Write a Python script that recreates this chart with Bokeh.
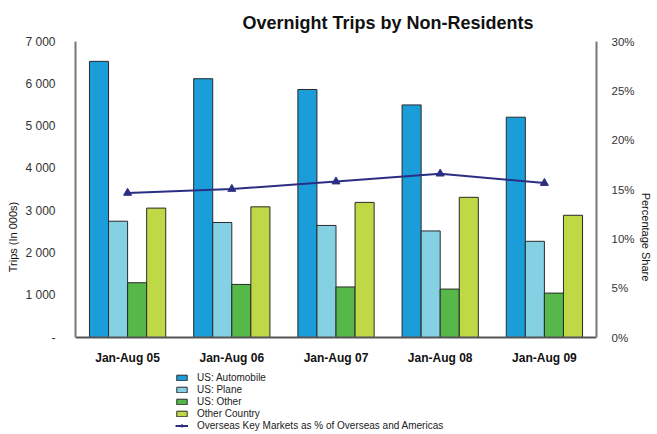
from bokeh.plotting import figure
from bokeh.models import (FactorRange, Range1d, LinearAxis, FixedTicker, NumeralTickFormatter,
                          ColumnDataSource, Legend, LegendItem)
from bokeh.transform import dodge
from bokeh.embed import file_html
from bokeh.resources import INLINE

periods = ["Jan-Aug 05", "Jan-Aug 06", "Jan-Aug 07", "Jan-Aug 08", "Jan-Aug 09"]
us_auto = [6530, 6120, 5865, 5500, 5210]
us_plane = [2750, 2720, 2650, 2520, 2275]
us_other = [1295, 1255, 1195, 1145, 1050]
other_country = [3060, 3090, 3195, 3315, 2890]
overseas_share = [0.1465, 0.1505, 0.158, 0.166, 0.1565]

left_ticks = [0, 1000, 2000, 3000, 4000, 5000, 6000, 7000]
left_tick_labels = ["-", "1 000", "2 000", "3 000", "4 000", "5 000", "6 000", "7 000"]
right_ticks = [0, 0.05, 0.10, 0.15, 0.20, 0.25, 0.30]

src = ColumnDataSource(dict(period=periods, auto=us_auto, plane=us_plane, other=us_other,
                            country=other_country, share=overseas_share))

FONT = "Liberation Sans"

W, H = 655, 432
TOP, LEFT, RIGHT = 41, 75, 59
PLOT_H = 296                      # pixel height of the 0..7000 band
FRAME_H = H - TOP                 # frame reaches the bottom so the legend can sit below the bars
below = FRAME_H - PLOT_H
y_max, pct_max = 7000, 0.30
y_min = -y_max * below / PLOT_H
pct_min = -pct_max * below / PLOT_H

p = figure(x_range=FactorRange(factors=periods), y_range=Range1d(y_min, y_max),
           width=W, height=H, output_backend="svg", toolbar_location=None,
           min_border_left=LEFT, min_border_right=RIGHT, min_border_top=TOP, min_border_bottom=0)
p.extra_y_ranges = {"pct": Range1d(pct_min, pct_max)}

p.title.text = "Overnight Trips by Non-Residents"
p.title.align = "left"
p.title.offset = 167
p.title.standoff = 18
p.title.text_font = FONT
p.title.text_font_size = "18px"
p.title.text_font_style = "bold"
p.title.text_color = "#111111"

p.grid.visible = False
p.outline_line_color = None
p.background_fill_color = "white"

w = 0.183
cols = [("auto", "#1A9DD9", -0.2745), ("plane", "#84D1E4", -0.0915),
        ("other", "#55B848", 0.0915), ("country", "#BFD846", 0.2745)]
renderers = []
for key, color, off in cols:
    r = p.vbar(x=dodge("period", off, range=p.x_range), top=key, width=w, source=src,
               fill_color=color, line_color="#2a2a2a", line_width=1)
    renderers.append(r)

ln = p.line(x="period", y="share", source=src, y_range_name="pct",
            line_color="#2B2E83", line_width=2)
mk = p.scatter(x="period", y="share", source=src, y_range_name="pct", marker="triangle",
               size=8, fill_color="#2B2E83", line_color="#2B2E83")

# left axis
ya = p.yaxis[0]
ya.ticker = FixedTicker(ticks=left_ticks)
ya.bounds = (0, y_max)
ya.major_label_overrides = {t: l for t, l in zip(left_ticks, left_tick_labels)}
ya.axis_label = "Trips (In 000s)"
ya.axis_label_text_font = FONT
ya.axis_label_text_font_size = "11px"
ya.axis_label_text_font_style = "normal"
ya.axis_label_text_color = "#111111"
ya.axis_label_standoff = 3
ya.major_label_text_font = FONT
ya.major_label_text_font_size = "12px"
ya.major_label_text_color = "#333333"
ya.major_label_standoff = 14
ya.major_tick_line_color = None
ya.minor_tick_line_color = None
ya.axis_line_color = "#777777"
ya.axis_line_width = 2

ra = LinearAxis(y_range_name="pct", ticker=FixedTicker(ticks=right_ticks),
                formatter=NumeralTickFormatter(format="0%"), bounds=(0, pct_max))
ra.axis_label = "Percentage Share"
ra.axis_label_text_font = FONT
ra.axis_label_text_font_size = "11px"
ra.axis_label_text_font_style = "normal"
ra.axis_label_text_color = "#111111"
ra.axis_label_standoff = 2
ra.major_label_text_font = FONT
ra.major_label_text_font_size = "11.5px"
ra.major_label_text_color = "#333333"
ra.major_label_standoff = 9
ra.major_tick_line_color = None
ra.minor_tick_line_color = None
ra.axis_line_color = "#777777"
ra.axis_line_width = 2
p.add_layout(ra, "right")

xa = p.xaxis[0]
xa.fixed_location = 0
xa.major_label_text_font = FONT
xa.major_label_text_font_size = "12px"
xa.major_label_text_font_style = "bold"
xa.major_label_text_color = "#111111"
xa.major_label_standoff = 7
xa.major_tick_line_color = None
xa.axis_line_color = "#555555"
xa.axis_line_width = 2

legend = Legend(items=[
    LegendItem(label="US: Automobile", renderers=[renderers[0]]),
    LegendItem(label="US: Plane", renderers=[renderers[1]]),
    LegendItem(label="US: Other", renderers=[renderers[2]]),
    LegendItem(label="Other Country", renderers=[renderers[3]]),
    LegendItem(label="Overseas Key Markets as % of Overseas and Americas", renderers=[ln, mk]),
], location=(100, 1), orientation="vertical", border_line_color=None,
    background_fill_alpha=0, label_text_font=FONT, label_text_font_size="10px",
    label_text_color="#222222", glyph_width=13, glyph_height=7, label_height=12,
    label_standoff=9, spacing=0, padding=0, margin=0)
p.add_layout(legend, "center")

open("out.html", "w").write(file_html(p, INLINE))
